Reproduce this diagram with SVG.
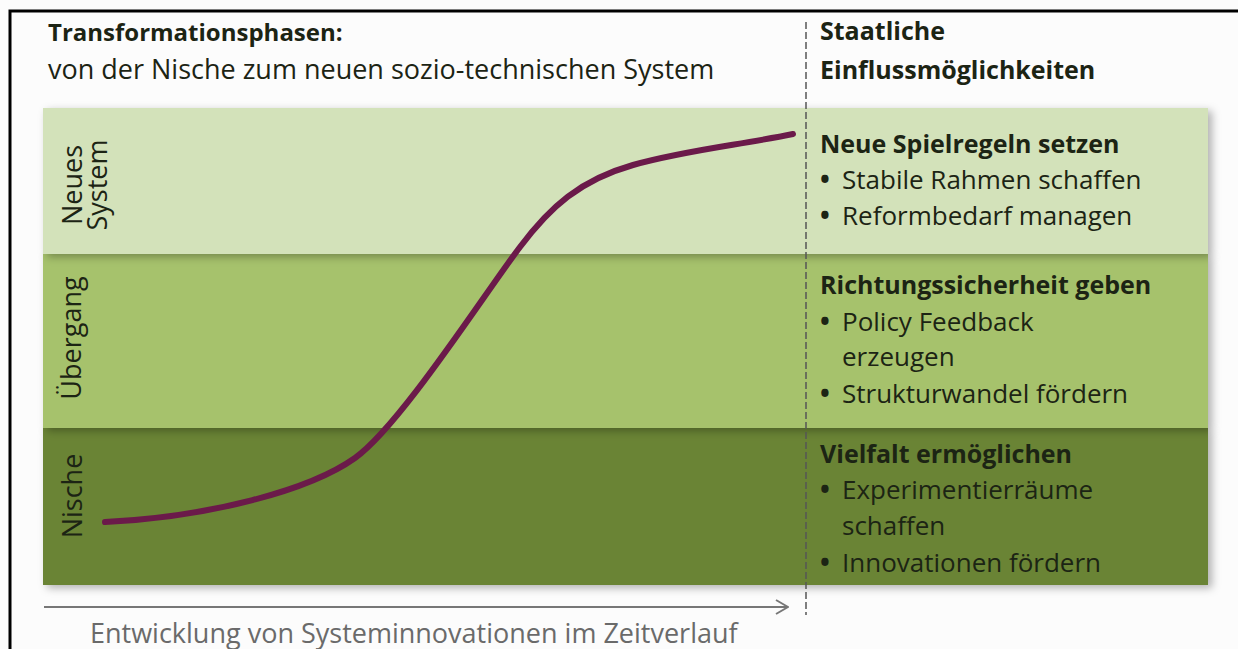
<svg xmlns="http://www.w3.org/2000/svg" width="1238" height="649" viewBox="0 0 1238 649">
<defs>
<filter id="sh" x="-5%" y="-10%" width="115%" height="130%">
<feDropShadow dx="4" dy="3" stdDeviation="4.5" flood-color="#000" flood-opacity="0.3"/>
</filter>
<marker id="arr" viewBox="0 0 14 16" refX="13" refY="8" markerWidth="14" markerHeight="16" markerUnits="userSpaceOnUse" orient="auto">
<path d="M1,1 L13,8 L1,15" fill="none" stroke="#777" stroke-width="2"/>
</marker>
<style>
.t{font-family:"Open Sans","Liberation Sans",sans-serif;fill:#1c2414}
.b{font-weight:bold}
.h{font-size:25px}
.r{font-size:26px}
.lbl{font-family:"Open Sans","Liberation Sans",sans-serif;font-size:27px;fill:#1c2414;text-anchor:middle}
</style>
</defs>
<rect x="0" y="0" width="1238" height="649" fill="#fcfcfc"/>
<rect x="10" y="11" width="1240" height="660" fill="none" stroke="#000" stroke-width="3"/>

<g id="band-nische" filter="url(#sh)"><rect x="43" y="428" width="1165" height="157" fill="#6a8434"/></g>
<g id="band-uebergang" filter="url(#sh)"><rect x="43" y="254" width="1165" height="174" fill="#a6c26c"/></g>
<g id="band-neues" filter="url(#sh)"><rect x="43" y="108" width="1165" height="146" fill="#d3e2ba"/></g>

<g id="labels-left">
<text class="lbl" transform="translate(82,185) rotate(-90)">Neues</text>
<text class="lbl" transform="translate(107,185) rotate(-90)">System</text>
<text class="lbl" transform="translate(81,338) rotate(-90)">Übergang</text>
<text class="lbl" transform="translate(82,496) rotate(-90)" font-size="29">Nische</text>
</g>

<g id="connectors">
<path id="s-curve" d="M105,522 C210,517 310,490 355,458 C400,426 485,293 520,247 C550,207 580,180 633,165 C686,150 740,145 793,134" fill="none" stroke="#6b1a4a" stroke-width="6" stroke-linecap="round"/>
<line id="time-axis" x1="44" y1="607" x2="788" y2="607" stroke="#777" stroke-width="2" marker-end="url(#arr)"/>
<line id="divider" x1="806" y1="22" x2="806" y2="615" stroke="#555" stroke-width="1.5" stroke-dasharray="7,3"/>
</g>

<g id="title">
<text class="t b" font-size="24" x="48" y="41">Transformationsphasen:</text>
<text class="t" font-size="27" x="48" y="79">von der Nische zum neuen sozio-technischen System</text>
</g>
<g id="title-right">
<text class="t b h" x="820" y="40">Staatliche</text>
<text class="t b h" x="820" y="79">Einflussmöglichkeiten</text>
</g>

<g id="box-neues">
<text class="t b h" x="820" y="153">Neue Spielregeln setzen</text>
<text class="t r" x="820" y="189"><tspan font-weight="bold">•</tspan><tspan x="842">Stabile Rahmen schaffen</tspan></text>
<text class="t r" x="820" y="225"><tspan font-weight="bold">•</tspan><tspan x="842">Reformbedarf managen</tspan></text>
</g>
<g id="box-uebergang">
<text class="t b h" x="820" y="294">Richtungssicherheit geben</text>
<text class="t r" x="820" y="331"><tspan font-weight="bold">•</tspan><tspan x="842">Policy Feedback</tspan></text>
<text class="t r" x="842" y="366">erzeugen</text>
<text class="t r" x="820" y="403"><tspan font-weight="bold">•</tspan><tspan x="842">Strukturwandel fördern</tspan></text>
</g>
<g id="box-nische">
<text class="t b h" x="820" y="463">Vielfalt ermöglichen</text>
<text class="t r" x="820" y="499"><tspan font-weight="bold">•</tspan><tspan x="842">Experimentierräume</tspan></text>
<text class="t r" x="842" y="535">schaffen</text>
<text class="t r" x="820" y="572"><tspan font-weight="bold">•</tspan><tspan x="842">Innovationen fördern</tspan></text>
</g>

<g id="axis-label">
<text x="90" y="643" font-family="'Open Sans','Liberation Sans',sans-serif" font-size="27" fill="#6a6a6a">Entwicklung von Systeminnovationen im Zeitverlauf</text>
</g>
</svg>
